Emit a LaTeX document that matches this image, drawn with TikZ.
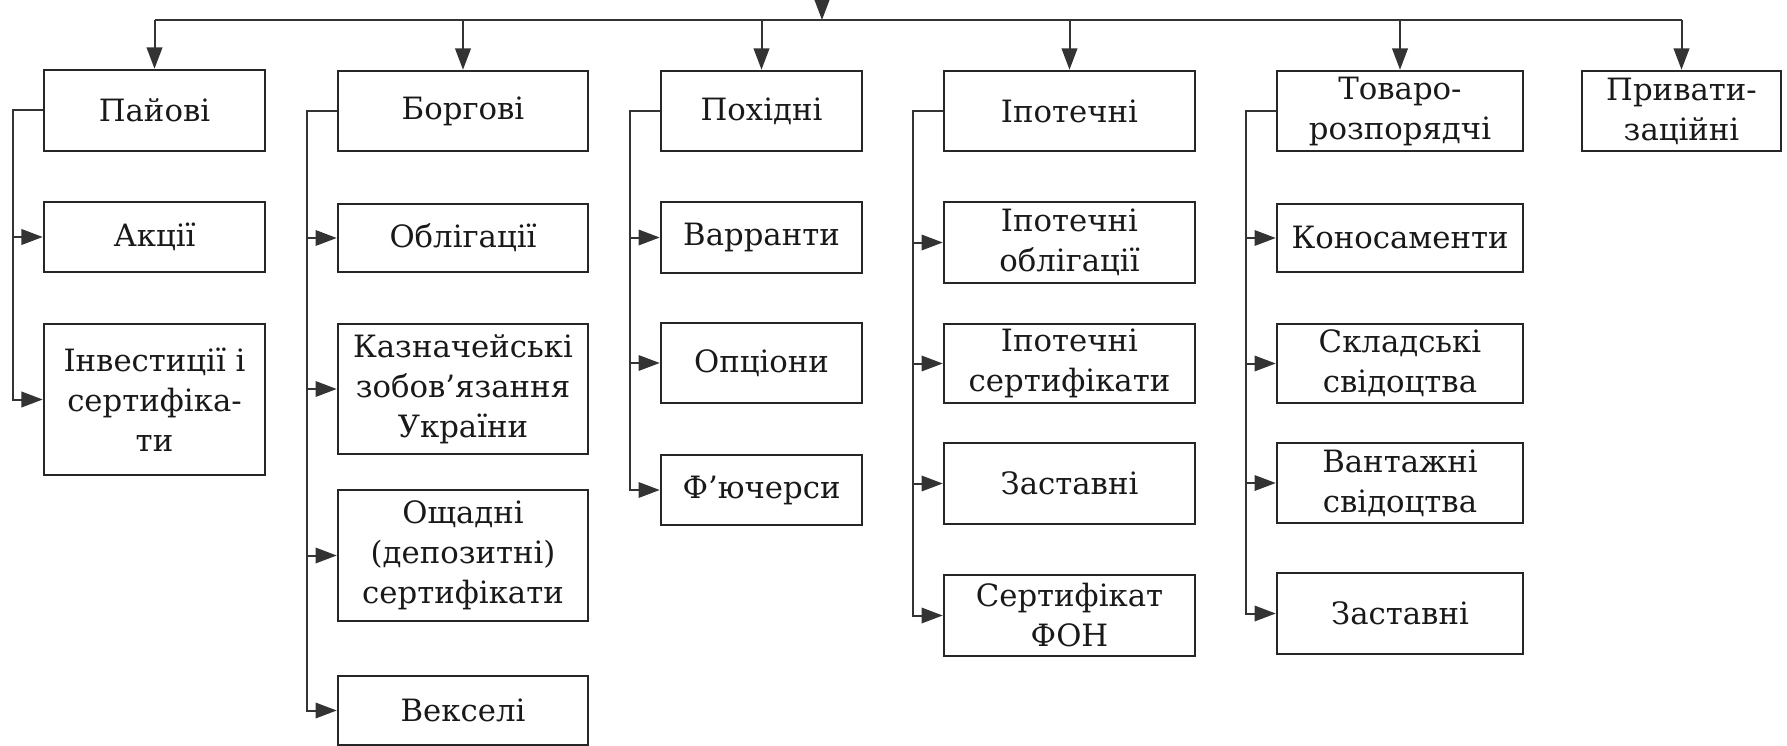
\documentclass[tikz,border=0pt]{standalone}
\usepackage{fontspec}
\setmainfont{DejaVu Serif}
\usepackage{tikz}
\usetikzlibrary{arrows.meta,positioning}

\begin{document}
\begin{tikzpicture}[x=0.4pt, y=-0.4pt, >={Triangle[length=8.5pt,width=6.2pt]},
  cell/.style={draw=black!85, line width=1pt, align=center, inner sep=2pt, text=black!90, font=\fontsize{12.3}{16}\selectfont},
  c1/.style={cell, minimum width=88.4pt},
  c2/.style={cell, minimum width=100pt},
  c3/.style={cell, minimum width=80.4pt},
  c4/.style={cell, minimum width=100.4pt},
  c5/.style={cell, minimum width=98.4pt},
  c6/.style={cell, minimum width=79.6pt},
  link/.style={draw=black!80, line width=0.8pt}]
\useasboundingbox (0,0) rectangle (1787,746);
\node[c1, minimum height=32.4pt] (paj) at (154.5,110.5) {Пайові};
\node[c1, minimum height=28pt] (akc) at (154.5,237) {Акції};
\node[c1, minimum height=60.4pt] (inv) at (154.5,399.5) {Інвестиції і\\сертифіка-\\ти};
\node[c2, minimum height=32pt] (borg) at (463,111) {Боргові};
\node[c2, minimum height=27.2pt] (obl) at (463,238) {Облігації};
\node[c2, minimum height=52pt] (kazn) at (463,389) {Казначейські\\зобов’язання\\України};
\node[c2, minimum height=52.4pt] (oshch) at (463,555.5) {Ощадні\\(депозитні)\\сертифікати};
\node[c2, minimum height=27.6pt] (veks) at (463,710.5) {Векселі};
\node[c3, minimum height=32pt] (pokh) at (761.5,111) {Похідні};
\node[c3, minimum height=28.4pt] (varr) at (761.5,237.5) {Варранти};
\node[c3, minimum height=32pt] (opts) at (761.5,363) {Опціони};
\node[c3, minimum height=28pt] (fut) at (761.5,490) {Ф’ючерси};
\node[c4, minimum height=32pt] (ipot) at (1069.5,111) {Іпотечні};
\node[c4, minimum height=32.4pt] (ipobl) at (1069.5,242.5) {Іпотечні\\облігації};
\node[c4, minimum height=31.6pt] (ipsert) at (1069.5,363.5) {Іпотечні\\сертифікати};
\node[c4, minimum height=32.4pt] (zast) at (1069.5,483.5) {Заставні};
\node[c4, minimum height=32.4pt] (fon) at (1069.5,615.5) {Сертифікат\\ФОН};
\node[c5, minimum height=32pt] (tovar) at (1400,111) {Товаро-\\розпорядчі};
\node[c5, minimum height=27.2pt] (kono) at (1400,238) {Коносаменти};
\node[c5, minimum height=31.6pt] (sklad) at (1400,363.5) {Складські\\свідоцтва};
\node[c5, minimum height=32pt] (vant) at (1400,483) {Вантажні\\свідоцтва};
\node[c5, minimum height=32.4pt] (zastt) at (1400,613.5) {Заставні};
\node[c6, minimum height=32pt] (pryv) at (1681.5,111) {Привати-\\заційні};
\coordinate (src) at (822,0);
\coordinate (bus) at (822,20);
\draw[link,->] (src) -- (bus);
\draw[link] (paj.north |- bus) -- (pryv.north |- bus);
\foreach \g in {paj,borg,pokh,ipot,tovar,pryv}
  \draw[link,->] (\g.north |- bus) -- (\g.north);
\foreach \g/\s in {paj/akc, paj/inv, borg/obl, borg/kazn, borg/oshch, borg/veks,
    pokh/varr, pokh/opts, pokh/fut, ipot/ipobl, ipot/ipsert, ipot/zast, ipot/fon,
    tovar/kono, tovar/sklad, tovar/vant, tovar/zastt}
  \draw[link,->] (\g.west) -- ++(-12pt,0) |- (\s.west);
\end{tikzpicture}
\end{document}
